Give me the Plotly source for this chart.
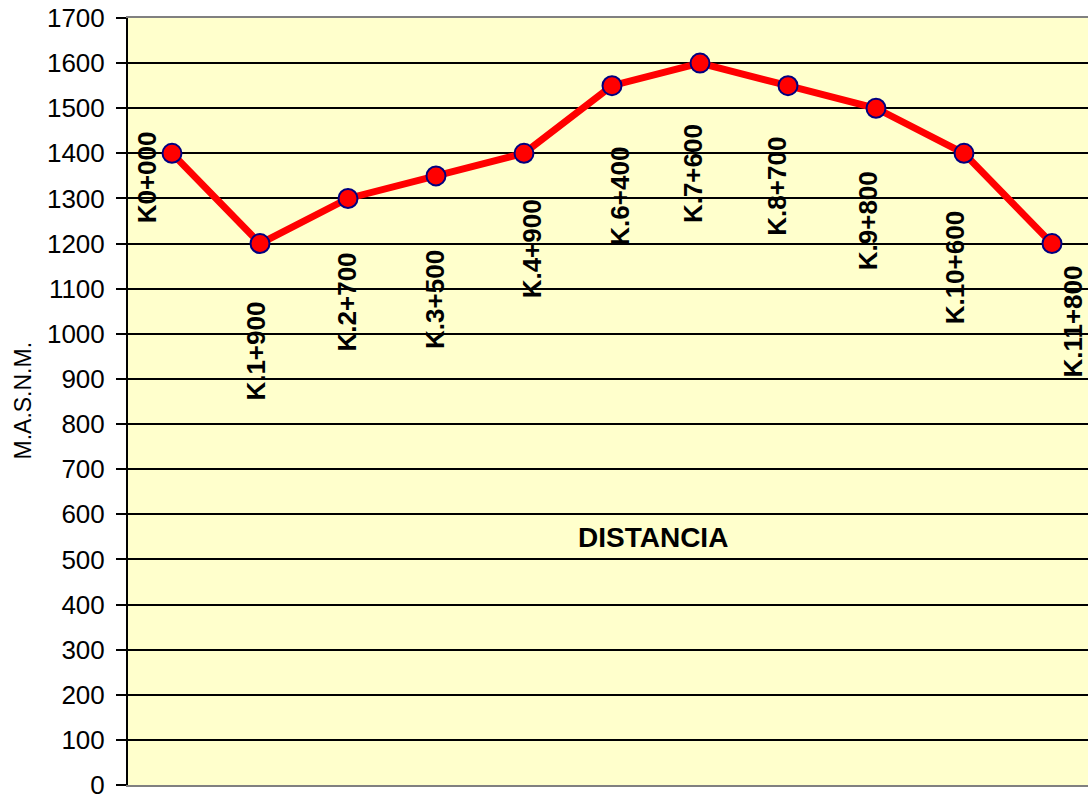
import plotly.graph_objects as go

stations = ["K0+000", "K.1+900", "K.2+700", "K.3+500", "K.4+900", "K.6+400",
            "K.7+600", "K.8+700", "K.9+800", "K.10+600", "K.11+800"]
elevations = [1400, 1200, 1300, 1350, 1400, 1550, 1600, 1550, 1500, 1400, 1200]
# label offsets in pixels (dx right, dy down) relative to each point
label_dx = [-25, -4, -1, -1, 8, 8, -7, -11, -8, -9, 21]
label_dy = [24, 108, 104, 124, 96, 111, 111, 101, 113, 115, 78]

xs = list(range(len(stations)))

fig = go.Figure()
fig.add_trace(go.Scatter(
    x=xs, y=elevations, mode="lines+markers",
    line=dict(color="#FF0000", width=7),
    marker=dict(size=19, color="#FF0000", line=dict(color="#000080", width=2)),
    showlegend=False, hoverinfo="skip"))

annotations = []
for i, (s, v) in enumerate(zip(stations, elevations)):
    annotations.append(dict(
        x=i, y=v, xref="x", yref="y", text=s, showarrow=False,
        xanchor="center", yanchor="middle",
        textangle=-90, xshift=label_dx[i], yshift=-label_dy[i],
        font=dict(family="Liberation Sans", size=26, color="black", weight="bold")))

annotations.append(dict(
    x=0.5464, y=0.3227, xref="paper", yref="paper", text="<b>DISTANCIA</b>",
    xanchor="center", yanchor="middle",
    showarrow=False, font=dict(family="Liberation Sans", size=28, color="black")))
annotations.append(dict(
    x=0, y=0.5, xref="paper", yref="paper", xshift=-106, yshift=1,
    xanchor="center", yanchor="middle",
    text="M.A.S.N.M.", textangle=-90, showarrow=False,
    font=dict(family="Liberation Sans", size=23, color="black")))

fig.update_layout(
    width=1088, height=794,
    margin=dict(l=128, r=0, t=18, b=9, autoexpand=False),
    paper_bgcolor="white", plot_bgcolor="#FFFFCC",
    annotations=annotations,
    font=dict(family="Liberation Sans", color="black"),
)
fig.update_xaxes(
    range=[-0.5, -0.5 + 960 / 88], showticklabels=False, ticks="",
    showgrid=False, zeroline=False, showline=True, linecolor="#808080",
    linewidth=2, mirror=True, automargin=False)
fig.update_yaxes(
    range=[0, 1700], dtick=100, tick0=0, showgrid=True, gridcolor="black",
    gridwidth=2, zeroline=False, showline=True, linecolor="black", linewidth=2,
    ticks="outside", ticklen=10, tickwidth=2, tickcolor="black",
    ticklabeloverflow="allow", ticklabelstandoff=6, automargin=False,
    tickfont=dict(family="Liberation Sans", size=26, color="black"))

fig.write_html("out.html", config={"displayModeBar": False},
               post_script="document.body.style.margin='0';document.body.style.overflow='hidden';")
